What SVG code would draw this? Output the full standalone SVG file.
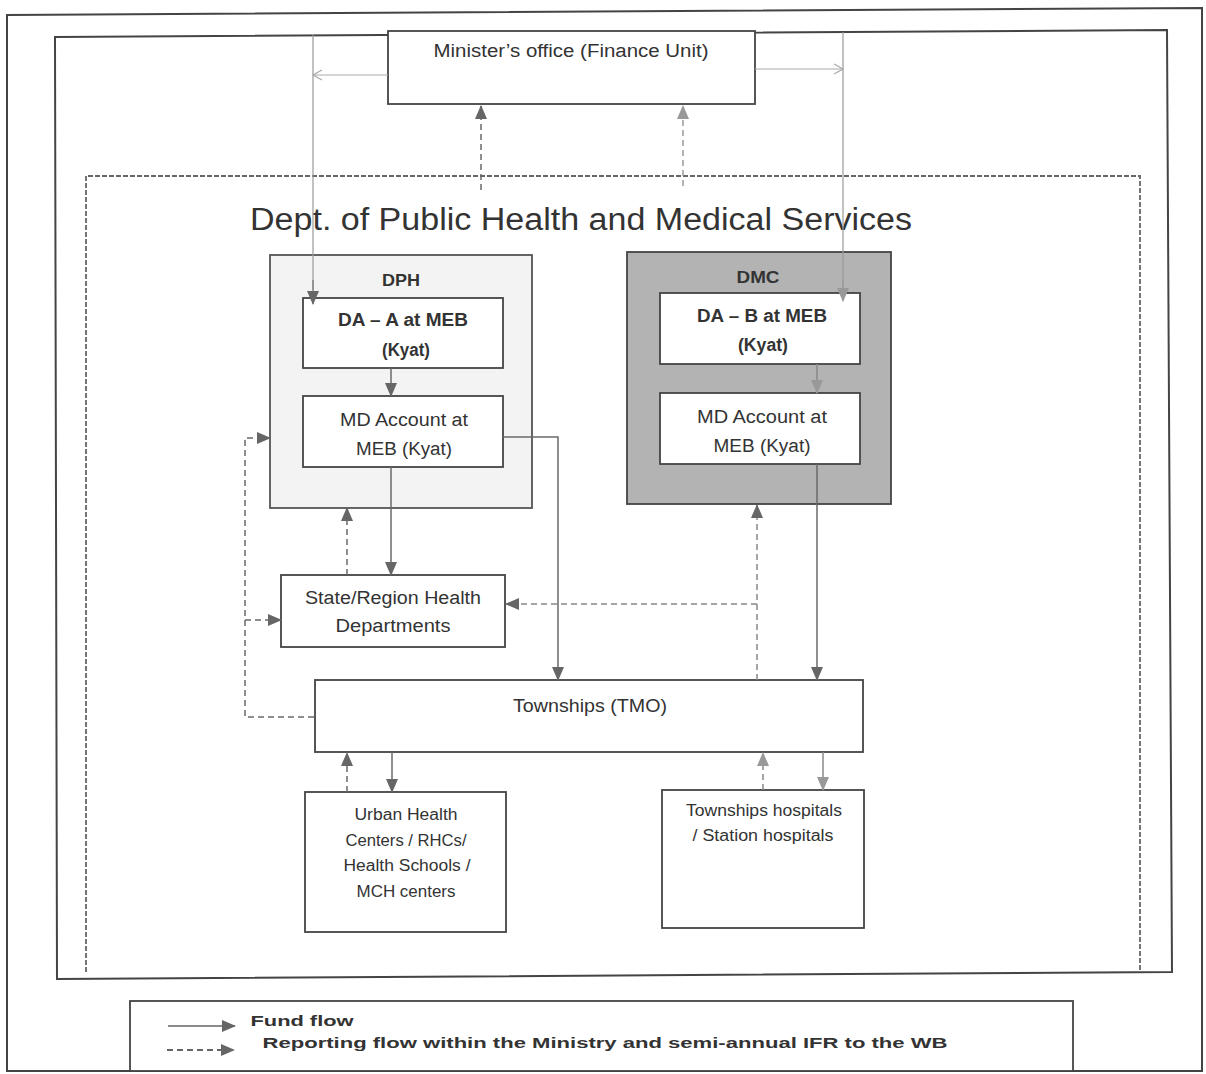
<svg xmlns="http://www.w3.org/2000/svg" width="1206" height="1074" viewBox="0 0 1206 1074">
<style>
.frame{fill:none;stroke:#444;stroke-width:2}
.box{fill:#fff;stroke:#444;stroke-width:1.8}
.t{font-family:"Liberation Sans",Arial,sans-serif;fill:#333;text-anchor:middle}
.b{font-weight:bold}
.fund{fill:none;stroke:#6a6a6a;stroke-width:1.5;marker-end:url(#ah)}
.rep{fill:none;stroke:#6a6a6a;stroke-width:1.5;stroke-dasharray:6,4;marker-end:url(#ah)}
.thin{fill:none;stroke:#999;stroke-width:1.2}
</style>
<defs>
<marker id="ah" markerUnits="userSpaceOnUse" markerWidth="14" markerHeight="14" viewBox="0 0 14 14" refX="13" refY="7" orient="auto">
<path d="M0,1 L14,7 L0,13 Z" fill="#666"/>
</marker>
<marker id="ahl" markerUnits="userSpaceOnUse" markerWidth="14" markerHeight="14" viewBox="0 0 14 14" refX="13" refY="7" orient="auto">
<path d="M0,1 L14,7 L0,13 Z" fill="#999"/>
</marker>
<marker id="open" markerUnits="userSpaceOnUse" markerWidth="12" markerHeight="12" viewBox="0 0 12 12" refX="11" refY="6" orient="auto">
<path d="M2,1 L11,6 L2,11" fill="none" stroke="#aaa" stroke-width="1.2"/>
</marker>
</defs>
<rect width="1206" height="1074" fill="#fff"/>
<g id="frames">
<polygon class="frame" points="7,15 1202,8 1202,1071 7,1071"/>
<polygon class="frame" points="55,37 1167,30 1172,972 57,979"/>
<path d="M86,972 V176 H1140 V972" fill="none" stroke="#666" stroke-width="1.8" stroke-dasharray="5,2"/>
</g>
<g id="minister">
<rect class="box" x="388" y="31" width="367" height="73"/>
<text class="t" x="571" y="57" font-size="18" textLength="275" lengthAdjust="spacingAndGlyphs">Minister’s office (Finance Unit)</text>
</g>
<g id="title">
<text class="t" x="581" y="230" font-size="31" fill="#444" textLength="662" lengthAdjust="spacingAndGlyphs">Dept. of Public Health and Medical Services</text>
</g>
<g id="dph">
<rect x="270" y="255" width="262" height="253" fill="#f3f3f3" stroke="#555" stroke-width="1.8"/>
<text class="t b" x="401" y="286" font-size="17" textLength="38" lengthAdjust="spacingAndGlyphs">DPH</text>
</g>
<g id="da-a">
<rect class="box" x="303" y="298" width="200" height="70"/>
<text class="t b" x="403" y="326" font-size="18" textLength="130" lengthAdjust="spacingAndGlyphs">DA – A at MEB</text>
<text class="t b" x="406" y="356" font-size="18" textLength="48" lengthAdjust="spacingAndGlyphs">(Kyat)</text>
</g>
<g id="md-a">
<rect class="box" x="303" y="396" width="200" height="71"/>
<text class="t" x="404" y="426" font-size="18" textLength="128" lengthAdjust="spacingAndGlyphs">MD Account at</text>
<text class="t" x="404" y="455" font-size="18" textLength="96" lengthAdjust="spacingAndGlyphs">MEB (Kyat)</text>
</g>
<g id="dmc">
<rect x="627" y="252" width="264" height="252" fill="#b3b3b3" stroke="#444" stroke-width="1.8"/>
<text class="t b" x="758" y="283" font-size="17" fill="#555" textLength="43" lengthAdjust="spacingAndGlyphs">DMC</text>
</g>
<g id="da-b">
<rect class="box" x="660" y="293" width="200" height="71"/>
<text class="t b" x="762" y="322" font-size="18" textLength="130" lengthAdjust="spacingAndGlyphs">DA – B at MEB</text>
<text class="t b" x="763" y="351" font-size="18" textLength="50" lengthAdjust="spacingAndGlyphs">(Kyat)</text>
</g>
<g id="md-b">
<rect class="box" x="660" y="393" width="200" height="71"/>
<text class="t" x="762" y="423" font-size="18" textLength="130" lengthAdjust="spacingAndGlyphs">MD Account at</text>
<text class="t" x="762" y="452" font-size="18" textLength="97" lengthAdjust="spacingAndGlyphs">MEB (Kyat)</text>
</g>
<g id="state">
<rect class="box" x="281" y="575" width="224" height="72"/>
<text class="t" x="393" y="604" font-size="18" textLength="176" lengthAdjust="spacingAndGlyphs">State/Region Health</text>
<text class="t" x="393" y="632" font-size="18" textLength="115" lengthAdjust="spacingAndGlyphs">Departments</text>
</g>
<g id="townships">
<rect class="box" x="315" y="680" width="548" height="72"/>
<text class="t" x="590" y="712" font-size="18" textLength="154" lengthAdjust="spacingAndGlyphs">Townships (TMO)</text>
</g>
<g id="urban">
<rect class="box" x="305" y="792" width="201" height="140"/>
<text class="t" x="406" y="820" font-size="16" textLength="103" lengthAdjust="spacingAndGlyphs">Urban Health</text>
<text class="t" x="406" y="846" font-size="16" textLength="121" lengthAdjust="spacingAndGlyphs">Centers / RHCs/</text>
<text class="t" x="407" y="871" font-size="16" fill="#555" textLength="127" lengthAdjust="spacingAndGlyphs">Health Schools /</text>
<text class="t" x="406" y="897" font-size="16" textLength="99" lengthAdjust="spacingAndGlyphs">MCH centers</text>
</g>
<g id="hospitals">
<rect class="box" x="662" y="790" width="202" height="138"/>
<text class="t" x="764" y="816" font-size="16" textLength="156" lengthAdjust="spacingAndGlyphs">Townships hospitals</text>
<text class="t" x="763" y="841" font-size="16" textLength="141" lengthAdjust="spacingAndGlyphs">/ Station hospitals</text>
</g>
<g id="legend">
<rect class="box" x="130" y="1001" width="943" height="70"/>
<line x1="168" y1="1026" x2="235" y2="1026" stroke="#666" stroke-width="1.5" marker-end="url(#ah)"/>
<line x1="167" y1="1050" x2="234" y2="1050" stroke="#666" stroke-width="2" stroke-dasharray="6,4" marker-end="url(#ah)"/>
<text class="t b" x="302" y="1026" font-size="14" textLength="103" lengthAdjust="spacingAndGlyphs">Fund flow</text>
<text class="t b" x="605" y="1048" font-size="14" textLength="685" lengthAdjust="spacingAndGlyphs">Reporting flow within the Ministry and semi-annual IFR to the WB</text>
</g>
<g id="connectors">
<line class="thin" x1="313" y1="34" x2="313" y2="290"/>
<line class="thin" x1="843" y1="32" x2="843" y2="290"/>
<line x1="313" y1="280" x2="313" y2="304" stroke="#777" stroke-width="1.2" marker-end="url(#ah)"/>
<line x1="843" y1="280" x2="843" y2="301" stroke="#999" stroke-width="1.2" marker-end="url(#ahl)"/>
<line x1="388" y1="75" x2="313" y2="75" stroke="#aaa" stroke-width="1.2" marker-end="url(#open)"/>
<line x1="755" y1="69" x2="843" y2="69" stroke="#aaa" stroke-width="1.2" marker-end="url(#open)"/>
<line class="rep" x1="481" y1="190" x2="481" y2="106"/>
<line x1="683" y1="186" x2="683" y2="106" stroke="#999" stroke-width="1.5" stroke-dasharray="6,4" marker-end="url(#ahl)"/>
<line class="fund" x1="391" y1="368" x2="391" y2="396"/>
<line x1="817" y1="364" x2="817" y2="393" stroke="#888" stroke-width="1.5" marker-end="url(#ahl)"/>
<polyline class="fund" points="503,437 558,437 558,680"/>
<line class="fund" x1="391" y1="467" x2="391" y2="575"/>
<line class="rep" x1="347" y1="575" x2="347" y2="508"/>
<polyline class="rep" points="314,717 245,717 245,438 270,438"/>
<line class="rep" x1="245" y1="620" x2="281" y2="620"/>
<line x1="757" y1="680" x2="757" y2="505" stroke="#888" stroke-width="1.5" stroke-dasharray="6,4" marker-end="url(#ah)"/>
<line x1="757" y1="604" x2="506" y2="604" stroke="#888" stroke-width="1.5" stroke-dasharray="6,4" marker-end="url(#ah)"/>
<line class="fund" x1="817" y1="464" x2="817" y2="680"/>
<line class="rep" x1="347" y1="792" x2="347" y2="753"/>
<line class="fund" x1="392" y1="752" x2="392" y2="792"/>
<line x1="763" y1="790" x2="763" y2="753" stroke="#888" stroke-width="1.5" stroke-dasharray="6,4" marker-end="url(#ahl)"/>
<line x1="823" y1="752" x2="823" y2="790" stroke="#888" stroke-width="1.5" marker-end="url(#ahl)"/>
</g>
</svg>
